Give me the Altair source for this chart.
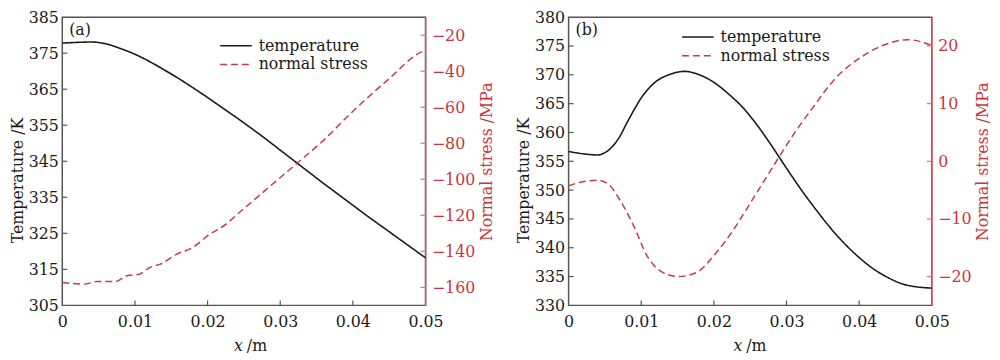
import altair as alt
import pandas as pd

# ---------------- data ----------------
series = ["temperature", "normal stress"]
x_ticks = [0, 0.01, 0.02, 0.03, 0.04, 0.05]

# panel (a)
a_temp_x = [0, 0.002, 0.004, 0.006, 0.008, 0.010, 0.012, 0.014, 0.016, 0.018, 0.020, 0.022, 0.024,
            0.026, 0.028, 0.030, 0.032, 0.034, 0.036, 0.038, 0.040, 0.042, 0.044, 0.046, 0.048, 0.050]
a_temp = [377.8, 378.0, 378.1, 377.6, 376.3, 374.7, 372.7, 370.4, 368.0, 365.4, 362.7, 359.9, 357.1,
          354.2, 351.2, 348.1, 345.0, 341.9, 338.8, 335.8, 332.8, 329.8, 326.9, 324.0, 321.1, 318.2]
a_stress_x = [0, 0.003, 0.0048, 0.0073, 0.0089, 0.0105, 0.0121, 0.0135, 0.0157, 0.018, 0.0202, 0.0225,
              0.0243, 0.0288, 0.0322, 0.0356, 0.0402, 0.0447, 0.0497, 0.05]
a_stress = [-157.3, -158.2, -156.8, -156.8, -153.5, -152.8, -148.9, -147.1, -141.7, -137.7, -130.8, -125.0,
            -118.7, -103.2, -91.5, -79.7, -61.5, -45.2, -28.9, -28.5]
a_temp_ticks = [305, 315, 325, 335, 345, 355, 365, 375, 385]
a_stress_ticks = [-160, -140, -120, -100, -80, -60, -40, -20]

# panel (b)
b_temp_x = [0, 0.002, 0.004, 0.005, 0.006, 0.007, 0.008, 0.009, 0.010, 0.011, 0.012, 0.014, 0.016,
            0.018, 0.020, 0.022, 0.024, 0.026, 0.028, 0.030, 0.032, 0.034, 0.036, 0.038, 0.040,
            0.042, 0.044, 0.046, 0.048, 0.050]
b_temp = [356.7, 356.3, 356.1, 356.5, 357.5, 359.2, 361.6, 363.9, 366.0, 367.6, 368.8, 370.1, 370.6,
          370.0, 368.7, 366.7, 364.3, 361.2, 357.6, 353.8, 350.1, 346.7, 343.5, 340.7, 338.3,
          336.3, 334.8, 333.7, 333.2, 333.0]
b_stress_x = [0, 0.0021, 0.004, 0.0055, 0.0071, 0.009, 0.0108, 0.0126, 0.0151, 0.0176, 0.0203, 0.023,
              0.0244, 0.0289, 0.0312, 0.0335, 0.0366, 0.0403, 0.0439, 0.0467, 0.05]
b_stress = [-4.25, -3.5, -3.3, -4.0, -6.8, -11.3, -16.4, -19.0, -20.0, -19.3, -15.9, -11.3,
            -8.5, 0.6, 5.1, 9.1, 14.2, 18.1, 20.4, 21.1, 20.1]
b_temp_ticks = [330, 335, 340, 345, 350, 355, 360, 365, 370, 375, 380]
b_stress_ticks = [-20, -10, 0, 10, 20]

# ---------------- style ----------------
FONT = "DejaVu Serif"
FS = 16
BLACK = "#1a1a1a"
RED = "#c23b4c"
RED_TEXT = "#cc3340"
RED_AXIS = "#e07080"
FRAME = "#555555"
W, H = 368, 292


def panel(tx, ty, sx, sy, t_dom, t_ticks, s_dom, s_ticks, tag, leg_x, leg_y, xlab_x):
    color_scale = alt.Scale(domain=series, range=[BLACK, RED])
    dash_scale = alt.Scale(domain=series, range=[[1, 0], [7, 4]])
    legend = alt.Legend(orient="none", legendX=leg_x, legendY=leg_y, title=None,
                        symbolType="M-4,0H4", symbolSize=64, symbolStrokeWidth=1.5,
                        labelFont=FONT, labelFontSize=FS, labelColor=BLACK,
                        labelOffset=15, rowPadding=3, padding=0)
    xs = alt.Scale(domain=[0, 0.05], nice=False, zero=False)
    xaxis = alt.Axis(values=x_ticks, format="~g", title=None, tickSize=0, domain=False, grid=False,
                     labelFont=FONT, labelFontSize=FS, labelColor=BLACK, labelPadding=8,
                     labelFlush=False)
    ts = alt.Scale(domain=t_dom, nice=False, zero=False)
    ss = alt.Scale(domain=s_dom, nice=False, zero=False)

    df_t = pd.DataFrame({"x": tx, "v": ty, "series": series[0]})
    df_s = pd.DataFrame({"x": sx, "v": sy, "series": series[1]})

    temp = alt.Chart(df_t).mark_line(strokeWidth=1.6, interpolate="monotone").encode(
        x=alt.X("x:Q", scale=xs, axis=xaxis),
        y=alt.Y("v:Q", scale=ts, axis=alt.Axis(
            orient="left", values=t_ticks, title="Temperature /K", tickSize=0, domain=False, grid=False,
            labelFont=FONT, labelFontSize=FS, labelColor=BLACK, labelPadding=4, labelFlush=False,
            titleFont=FONT, titleFontSize=FS, titleFontWeight="normal", titleColor=BLACK,
            titlePadding=3, titleY=165)),
        color=alt.Color("series:N", scale=color_scale, legend=legend),
        strokeDash=alt.StrokeDash("series:N", scale=dash_scale, legend=legend),
    )
    stress = alt.Chart(df_s).mark_line(strokeWidth=1.5, interpolate="monotone").encode(
        x=alt.X("x:Q", scale=xs, axis=xaxis),
        y=alt.Y("v:Q", scale=ss, axis=alt.Axis(
            orient="right", values=s_ticks, title="Normal stress /MPa", tickSize=0,
            domain=True, domainColor=RED_AXIS, domainWidth=1.2, grid=False,
            labelFont=FONT, labelFontSize=FS, labelColor=RED_TEXT, labelPadding=6, labelFlush=False,
            titleFont=FONT, titleFontSize=FS, titleFontWeight="normal", titleColor=RED_TEXT,
            titleAngle=270, titleBaseline="top", titlePadding=4)),
        color=alt.Color("series:N", scale=color_scale, legend=legend),
        strokeDash=alt.StrokeDash("series:N", scale=dash_scale, legend=legend),
    )
    # inward ticks
    tick_b = alt.Chart(pd.DataFrame({"v": x_ticks[1:-1]})).mark_rule(color=FRAME, strokeWidth=1.2).encode(
        x=alt.X("v:Q", scale=xs, axis=xaxis), y=alt.value(H), y2=alt.value(H - 5))
    tick_l = alt.Chart(pd.DataFrame({"v": t_ticks[1:-1]})).mark_rule(color=FRAME, strokeWidth=1.2).encode(
        y=alt.Y("v:Q", scale=ts, axis=None), x=alt.value(0), x2=alt.value(5))
    tick_r = alt.Chart(pd.DataFrame({"v": s_ticks})).mark_rule(color=RED_AXIS, strokeWidth=1.2).encode(
        y=alt.Y("v:Q", scale=ss, axis=None), x=alt.value(W - 5), x2=alt.value(W))
    # panel tag and x-axis title
    tag_t = alt.Chart(pd.DataFrame({"t": [tag]})).mark_text(
        align="left", baseline="middle", font=FONT, fontSize=FS, color=BLACK).encode(
        x=alt.value(7), y=alt.value(13), text="t:N")
    xt1 = alt.Chart(pd.DataFrame({"t": ["x"]})).mark_text(
        align="right", baseline="alphabetic", font=FONT, fontSize=FS, fontStyle="italic", color=BLACK).encode(
        x=alt.value(xlab_x), y=alt.value(H + 46), text="t:N")
    xt2 = alt.Chart(pd.DataFrame({"t": ["/m"]})).mark_text(
        align="left", baseline="alphabetic", font=FONT, fontSize=FS, color=BLACK).encode(
        x=alt.value(xlab_x + 4), y=alt.value(H + 46), text="t:N")

    return alt.layer(temp, stress, tick_b, tick_l, tick_r, tag_t, xt1, xt2).resolve_scale(
        y="independent").properties(width=W, height=H)


pa = panel(a_temp_x, a_temp, a_stress_x, a_stress, [305, 385], a_temp_ticks, [-170, -10], a_stress_ticks,
           "(a)", 168, 21, 183)
pb = panel(b_temp_x, b_temp, b_stress_x, b_stress, [330, 380], b_temp_ticks, [-25, 25], b_stress_ticks,
           "(b)", 123, 12, 176)

chart = alt.hconcat(pa, pb, spacing=19).resolve_scale(
    color="independent", strokeDash="independent").properties(
    padding={"left": 0, "top": -2, "right": 0, "bottom": 0}
).configure_view(stroke=FRAME, strokeWidth=1.5)

chart.save("out.html", embed_options={"renderer": "svg", "actions": False})
